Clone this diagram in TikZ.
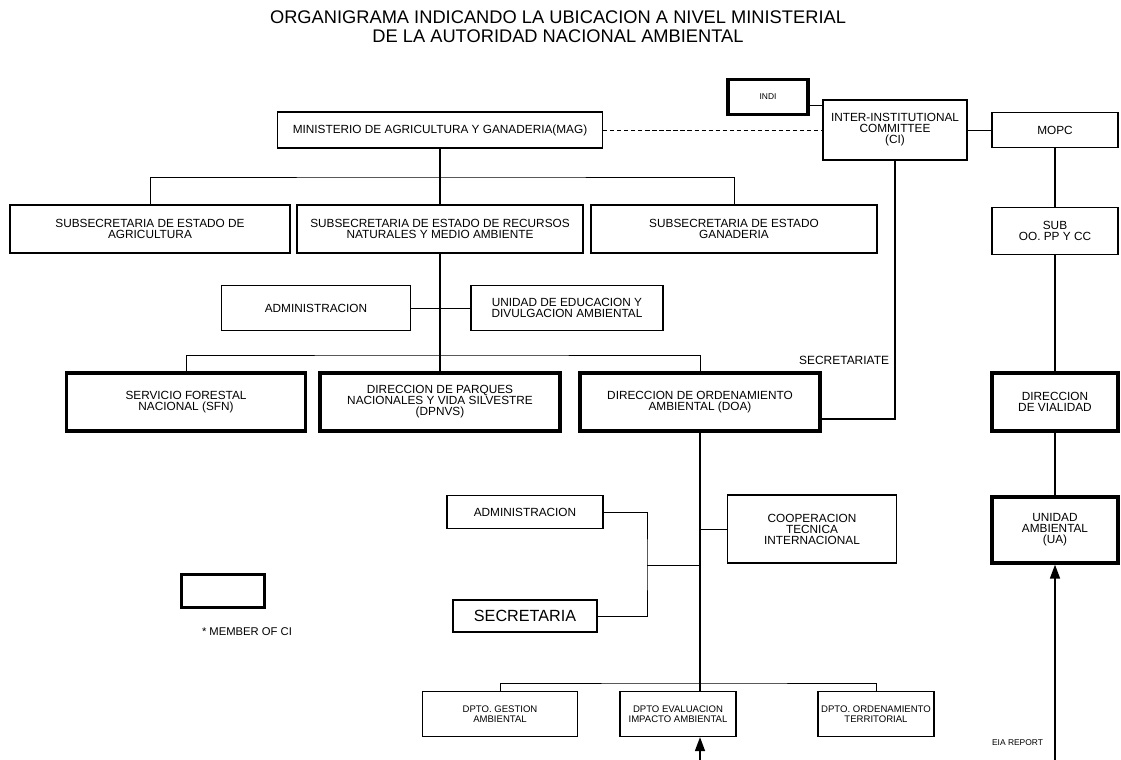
\documentclass[tikz,border=0pt]{standalone}
\usepackage{fontspec}
\setmainfont{Liberation Sans}
\usetikzlibrary{arrows.meta}

\begin{document}
\begin{tikzpicture}[x=0.025cm,y=-0.025cm]
\tikzstyle box=[draw,line width=0.8pt,align=center,inner sep=1pt,font=\fontsize{8.4}{7.8}\selectfont]
\tikzstyle member=[style=box,line width=2.2pt]
\tikzstyle dept=[style=box,font=\fontsize{6.8}{7.2}\selectfont]
\tikzstyle heading=[inner sep=0pt,align=center,font=\fontsize{13}{13.4}\selectfont]
\tikzstyle link=[line width=0.7pt]
\tikzstyle trunk=[line width=1.5pt]
\tikzstyle report=[trunk,-{Triangle[length=10pt,width=7pt]}]
\useasboundingbox (0,0) rectangle (1121,760);
% title
\node[heading] (title) at (558,27) {ORGANIGRAMA INDICANDO LA UBICACION A NIVEL MINISTERIAL\\DE LA AUTORIDAD NACIONAL AMBIENTAL};
% top level
\node[member,minimum width=2cm,minimum height=0.875cm,font=\fontsize{6}{6}\selectfont] (indi) at (768,97) {INDI};
\node[box,minimum width=8.125cm,minimum height=0.9cm] (mag) at (440,130) {MINISTERIO DE AGRICULTURA Y GANADERIA(MAG)};
\node[box,minimum width=3.6cm,minimum height=1.5cm] (ci) at (895,130) {INTER-INSTITUTIONAL\\COMMITTEE\\(CI)};
\node[box,minimum width=3.15cm,minimum height=0.875cm] (mopc) at (1055,130) {MOPC};
% subsecretarias
\node[box,minimum width=7cm,minimum height=1.2cm] (subagr) at (150,229) {SUBSECRETARIA DE ESTADO DE\\AGRICULTURA};
\node[box,minimum width=7.15cm,minimum height=1.2cm] (subrn) at (440,229) {SUBSECRETARIA DE ESTADO DE RECURSOS\\NATURALES Y MEDIO AMBIENTE};
\node[box,minimum width=7.15cm,minimum height=1.2cm] (subgan) at (734,229) {SUBSECRETARIA DE ESTADO\\GANADERIA};
\node[box,minimum width=3.15cm,minimum height=1.175cm] (suboo) at (1055,231) {SUB\\OO. PP Y CC};
\node[box,minimum width=4.725cm,minimum height=1.125cm] (adm) at (316,308) {ADMINISTRACION};
\node[box,minimum width=4.8cm,minimum height=1.125cm] (ueda) at (567,308) {UNIDAD DE EDUCACION Y\\DIVULGACION AMBIENTAL};
% direcciones
\node[member,minimum width=5.975cm,minimum height=1.45cm] (sfn) at (186,402) {SERVICIO FORESTAL\\NACIONAL (SFN)};
\node[member,minimum width=6cm,minimum height=1.45cm] (dpnvs) at (440,402) {DIRECCION DE PARQUES\\NACIONALES Y VIDA SILVESTRE\\(DPNVS)};
\node[member,minimum width=6cm,minimum height=1.45cm] (doa) at (700,402) {DIRECCION DE ORDENAMIENTO\\AMBIENTAL (DOA)};
\node[member,minimum width=3.15cm,minimum height=1.45cm] (dv) at (1055,402) {DIRECCION\\DE VIALIDAD};
\node[box,minimum width=3.9cm,minimum height=0.825cm] (adm2) at (525,512) {ADMINISTRACION};
\node[box,minimum width=4.225cm,minimum height=1.7cm] (cti) at (812,529) {COOPERACION\\TECNICA\\INTERNACIONAL};
\node[box,minimum width=3.6cm,minimum height=0.8cm,font=\fontsize{11.5}{12}\selectfont] (secr) at (525,616) {SECRETARIA};
\node[member,minimum width=3.15cm,minimum height=1.65cm] (ua) at (1055,530) {UNIDAD\\AMBIENTAL\\(UA)};
% legend
\node[member,minimum width=2.075cm,minimum height=0.825cm] (legend) at (223,591) {};
\node[font=\fontsize{8}{8}\selectfont] (legtext) at (247,632) {* MEMBER OF CI};
% departamentos
\node[dept,minimum width=3.875cm,minimum height=1.125cm] (dga) at (500,714) {DPTO. GESTION\\AMBIENTAL};
\node[dept,minimum width=2.9cm,minimum height=1.125cm] (deia) at (678,714) {DPTO EVALUACION\\IMPACTO AMBIENTAL};
\node[dept,minimum width=2.9cm,minimum height=1.125cm] (dot) at (876,714) {DPTO. ORDENAMIENTO\\TERRITORIAL};
\node[font=\fontsize{8.5}{8.5}\selectfont,anchor=east] (secrlbl) at (894,360) {SECRETARIATE};
\node[font=\fontsize{6}{6}\selectfont,anchor=east] (eialbl) at (1048,743) {EIA REPORT};
\coordinate (tick) at (810,105);
\coordinate (bar1) at (440,177);
\coordinate (bar2) at (440,355);
\coordinate (bar3) at (700,683);
\coordinate (brk) at (647,565);
\coordinate (eiain) at (700,760);
\coordinate (uain) at (1055,760);
% connectors
\draw[link,densely dashed] (mag) -- (ci);
\draw[link] (tick) -- (tick -| ci.west);
\draw[link] (ci) -- (mopc);
\draw[trunk] (mag.south) -- (subrn.north);
\draw[link] (subagr.north) |- (bar1) -| (subgan.north);
\draw[trunk] (subrn.south) -- (dpnvs.north);
\draw[link] (adm) -- (ueda);
\draw[link] (sfn.north) |- (bar2) -| (doa.north);
\draw[trunk] (ci.south) |- ([yshift=-12pt]doa.east);
\draw[trunk] (mopc) -- (suboo);
\draw[trunk] (suboo) -- (dv);
\draw[trunk] (dv) -- (ua);
\draw[report] (uain) -- (ua.south);
\draw[trunk] (doa.south) -- (doa.south |- deia.north);
\draw[link] (dga.north) |- (bar3) -| (dot.north);
\draw[link] (adm2.east) -| (brk) |- (secr.east);
\draw[link] (brk) -- (brk -| doa.south);
\draw[link] (cti.west) -- (cti.west -| doa.south);
\draw[report] (eiain) -- (eiain |- deia.south);
%\draw[step=50,gray,very thin] (0,0) grid (1121,760);
\end{tikzpicture}
\end{document}
